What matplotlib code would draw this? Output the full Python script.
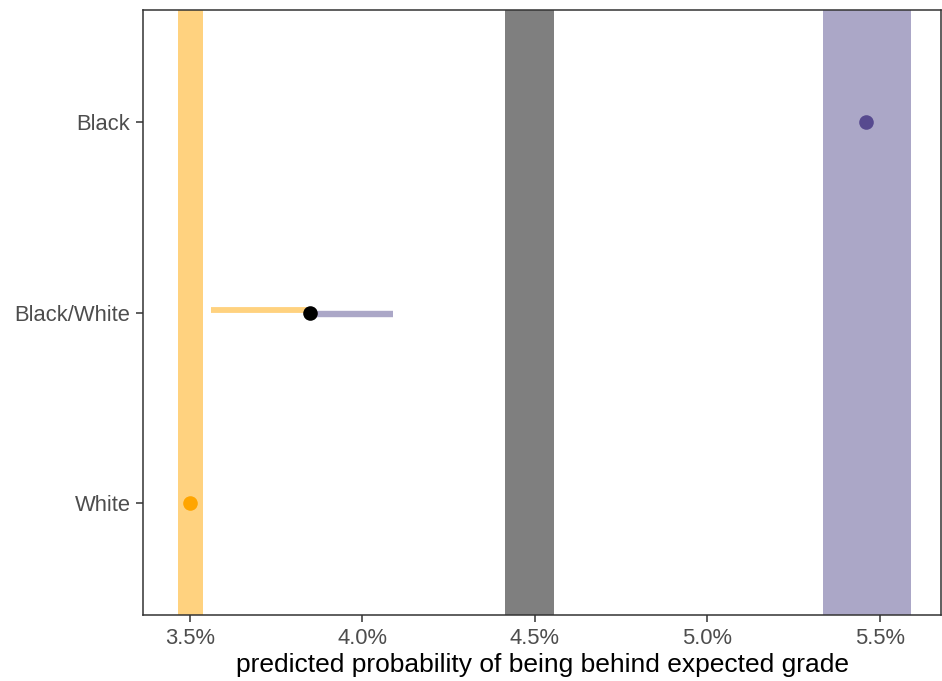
import matplotlib
matplotlib.use("Agg")
import matplotlib.pyplot as plt
from matplotlib.ticker import FuncFormatter

plt.rcParams['font.family'] = ['Liberation Sans', 'DejaVu Sans']

# categories (bottom to top)
groups = ["White", "Black/White", "Black"]

# predicted probabilities (%)
white_val = 3.50
black_val = 5.46
mixed_val = 3.848

# confidence bands (lo, hi)
white_band = (3.465, 3.538)
overall_band = (4.413, 4.555)
black_band = (5.335, 5.590)

# segments from the mixed estimate
seg_white = (3.561, 3.848)
seg_black = (3.848, 4.088)

orange = "#FFA500"
orange_light = "#FFD27F"
purple = "#574A8F"
purple_light = "#ABA7C7"
grey = "#7F7F7F"

fig = plt.figure(figsize=(9.42, 6.81), dpi=100)
ax = fig.add_axes([0.1518, 0.0969, 0.8472, 0.8884])

ypos = {g: i + 1 for i, g in enumerate(groups)}

ax.axvspan(*white_band, color=orange_light, lw=0, zorder=1)
ax.axvspan(*overall_band, color=grey, lw=0, zorder=1)
ax.axvspan(*black_band, color=purple_light, lw=0, zorder=1)

ax.plot(seg_white, [ypos["Black/White"] + 0.012] * 2, color=orange_light,
        lw=4.2, solid_capstyle='butt', zorder=2)
ax.plot(seg_black, [ypos["Black/White"] - 0.01] * 2, color=purple_light,
        lw=4.6, solid_capstyle='butt', zorder=2)

ax.plot([white_val], [ypos["White"]], 'o', color=orange, ms=10.5, mec='none', zorder=3)
ax.plot([black_val], [ypos["Black"]], 'o', color=purple, ms=10.5, mec='none', zorder=3)
ax.plot([mixed_val], [ypos["Black/White"]], 'o', color='black', ms=10.5, mec='none', zorder=3)

ax.set_xlim(3.364, 5.677)
ax.set_ylim(0.41, 3.59)
ax.set_xticks([3.5, 4.0, 4.5, 5.0, 5.5])
ax.xaxis.set_major_formatter(FuncFormatter(lambda v, p: f"{v:.1f}%"))
ax.set_yticks([ypos[g] for g in groups])
ax.set_yticklabels(groups)

for s in ax.spines.values():
    s.set_color("#333333")
    s.set_linewidth(1.1)
ax.tick_params(axis='both', colors="#333333", length=5, width=1.1,
               labelsize=15.8, labelcolor="#4D4D4D", pad=4)
ax.set_xlabel("predicted probability of being behind expected grade",
              fontsize=19, color="black", labelpad=3)

fig.savefig("out.png", dpi=100)
